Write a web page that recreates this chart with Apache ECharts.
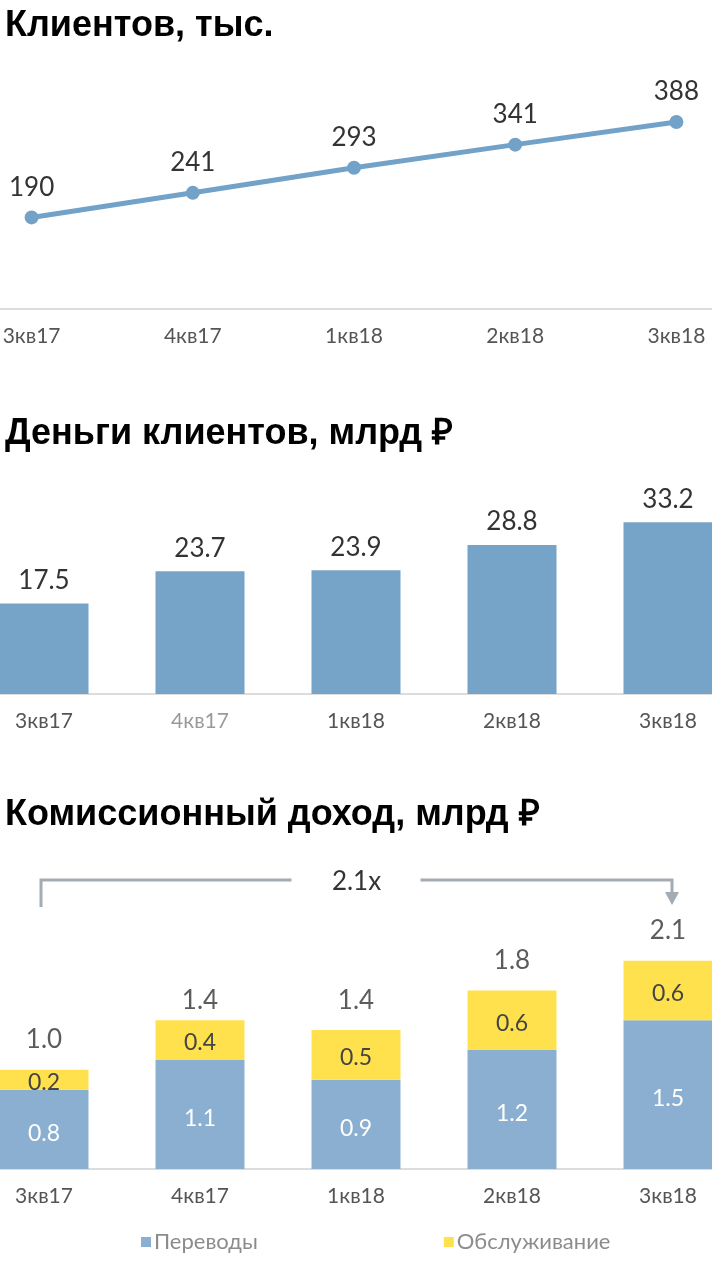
<!DOCTYPE html>
<html lang="ru">
<head>
    <meta charset="UTF-8">
    <title>Клиенты</title>
    <script src="https://cdn.jsdelivr.net/npm/echarts@6/dist/echarts.min.js"></script>
    <style>
        html, body { margin: 0; padding: 0; background: #fff; }
        #main { width: 712px; height: 1282px; }
    </style>
</head>
<body>
<div id="main"></div>
<script>
    // данные
    var quarters = ['3кв17', '4кв17', '1кв18', '2кв18', '3кв18'];
    var clients = [190, 241, 293, 341, 388];
    var money = [17.5, 23.7, 23.9, 28.8, 33.2];
    var transfers = [0.8, 1.1, 0.9, 1.2, 1.5];
    var service = [0.2, 0.4, 0.5, 0.6, 0.6];
    var totals = [1.0, 1.4, 1.4, 1.8, 2.1];
    var growthLabel = '2.1x';

    var titleFont = '"Liberation Sans", Arial, sans-serif';
    var numFont = 'Lato, "Noto Sans", sans-serif';

    function axisX(grid, colorFn) {
        return {
            type: 'category',
            gridIndex: grid,
            data: quarters,
            axisTick: {show: false},
            axisLine: {lineStyle: {color: '#dcdcdc', width: 2}},
            axisLabel: {
                fontFamily: numFont,
                fontSize: 21,
                color: colorFn || '#555',
                margin: 17
            }
        };
    }
    function axisY(grid, max) {
        return {
            type: 'value', gridIndex: grid, min: 0, max: max,
            show: false, splitLine: {show: false}
        };
    }

    var chart = echarts.init(document.getElementById('main'));
    var option = {
        animation: false,
        title: [
            {text: 'Клиентов, тыс.', left: 0, top: 3,
                textStyle: {fontFamily: titleFont, fontSize: 36, fontWeight: 'bold', color: '#000'}},
            {text: 'Деньги клиентов, млрд ₽', left: 0, top: 411,
                textStyle: {fontFamily: titleFont, fontSize: 36, fontWeight: 'bold', color: '#000'}},
            {text: 'Комиссионный доход, млрд ₽', left: 0, top: 792,
                textStyle: {fontFamily: titleFont, fontSize: 36, fontWeight: 'bold', color: '#000'}}
        ],
        legend: {
            data: ['Переводы', 'Обслуживание'],
            top: 1226, left: 136,
            itemGap: 186,
            itemWidth: 10, itemHeight: 10,
            icon: 'rect',
            textStyle: {fontFamily: numFont, fontSize: 22, color: '#8c8c8c', padding: [0, 0, 0, -2]}
        },
        grid: [
            {left: -49, right: -45, top: 68, height: 241, outerBoundsMode: 'none'},
            {left: -34, right: -34, top: 487, height: 207, outerBoundsMode: 'none'},
            {left: -34, right: -34, top: 921, height: 248, outerBoundsMode: 'none'}
        ],
        xAxis: [
            axisX(0),
            axisX(1, function (v) { return v === '4кв17' ? '#9a9a9a' : '#555'; }),
            axisX(2)
        ],
        yAxis: [axisY(0, 500), axisY(1, 40), axisY(2, 2.5)],
        series: [
            {
                name: 'Клиенты', type: 'line', xAxisIndex: 0, yAxisIndex: 0,
                data: clients,
                symbol: 'circle', symbolSize: 14,
                lineStyle: {color: '#73a2c9', width: 5},
                itemStyle: {color: '#73a2c9'},
                label: {show: true, position: 'top', distance: 10,
                    fontFamily: numFont, fontSize: 26, color: '#333'}
            },
            {
                name: 'Деньги', type: 'bar', xAxisIndex: 1, yAxisIndex: 1,
                data: money, barWidth: 89,
                itemStyle: {color: '#76a4c8'},
                label: {show: true, position: 'top', distance: 10,
                    fontFamily: numFont, fontSize: 26, color: '#333',
                    formatter: function (p) { return p.value.toFixed(1); }}
            },
            {
                name: 'Переводы', type: 'bar', xAxisIndex: 2, yAxisIndex: 2,
                stack: 'fee', data: transfers, barWidth: 89,
                itemStyle: {color: '#8aafd0'},
                label: {show: true, position: 'inside', offset: [0, 4],
                    fontFamily: numFont, fontSize: 23, color: '#fff',
                    formatter: function (p) { return p.value.toFixed(1); }}
            },
            {
                name: 'Обслуживание', type: 'bar', xAxisIndex: 2, yAxisIndex: 2,
                stack: 'fee', data: service, barWidth: 89,
                itemStyle: {color: '#ffe14d'},
                label: {show: true, position: 'inside', offset: [0, 3],
                    fontFamily: numFont, fontSize: 23, color: '#444',
                    formatter: function (p) { return p.value.toFixed(1); }}
            },
            {
                name: 'Итого', type: 'scatter', xAxisIndex: 2, yAxisIndex: 2,
                data: totals, symbolSize: 0, silent: true,
                label: {show: true, position: 'top', distance: 17,
                    fontFamily: numFont, fontSize: 26, color: '#333',
                    formatter: function (p) { return p.value.toFixed(1); }}
            }
        ]
    };
    chart.setOption(option);

    // стрелка «2.1x» над первым и последним столбцом
    var x0 = chart.convertToPixel({xAxisIndex: 2}, quarters[0]) - 3;
    var x1 = chart.convertToPixel({xAxisIndex: 2}, quarters[quarters.length - 1]) + 4;
    var xm = (x0 + x1) / 2;
    var yTop = 880;
    var lineStyle = {stroke: '#a3abb3', lineWidth: 3, fill: null};
    chart.setOption({
        graphic: [
            {type: 'polyline', shape: {points: [[x0, yTop + 27], [x0, yTop], [xm - 65, yTop]]}, style: lineStyle},
            {type: 'polyline', shape: {points: [[xm + 64, yTop], [x1, yTop], [x1, yTop + 16]]}, style: lineStyle},
            {type: 'polygon', shape: {points: [[x1 - 7, yTop + 12], [x1 + 7, yTop + 12], [x1, yTop + 25]]},
                style: {fill: '#a3abb3'}},
            {type: 'text', x: xm, y: yTop + 2,
                style: {text: growthLabel, fontFamily: numFont, fontSize: 26, fill: '#333',
                    textAlign: 'center', textVerticalAlign: 'middle'}}
        ]
    });
</script>
</body>
</html>
